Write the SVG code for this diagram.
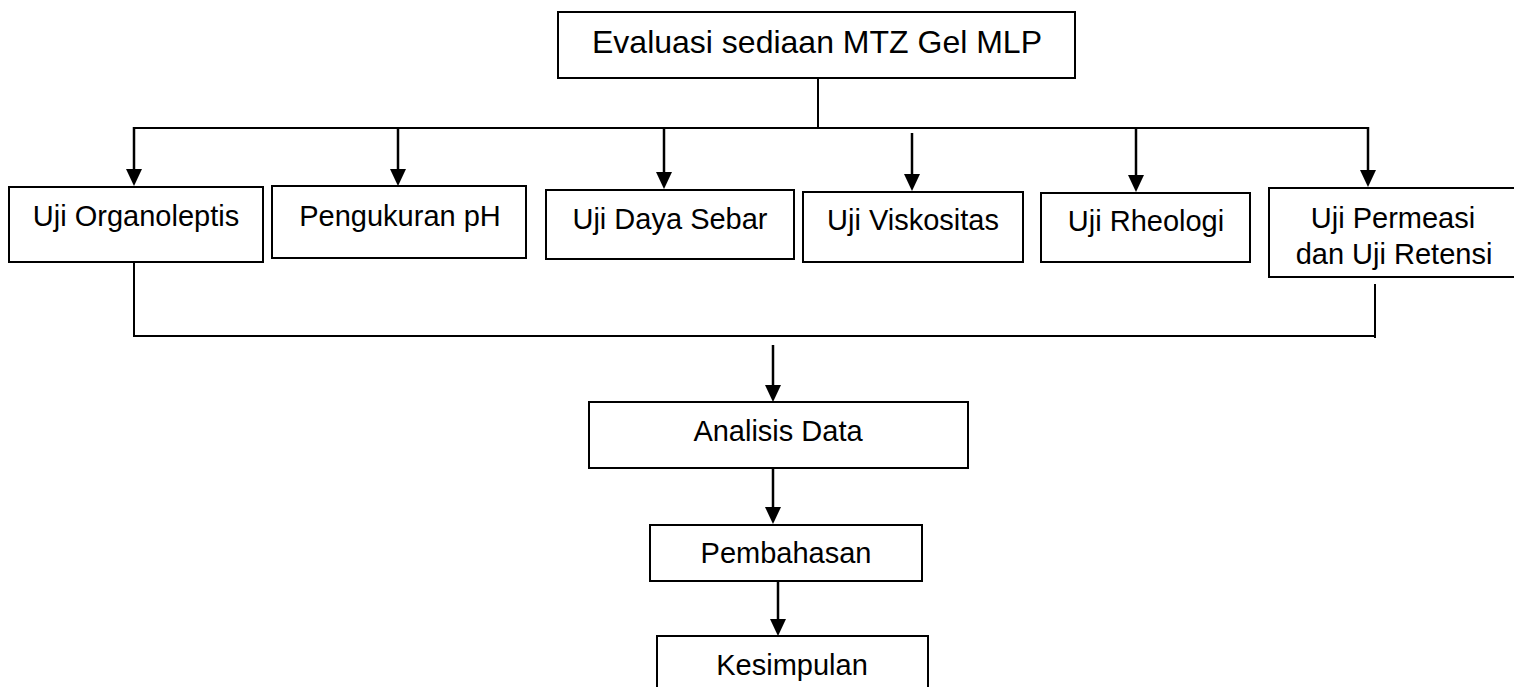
<svg xmlns="http://www.w3.org/2000/svg" width="1514" height="687" viewBox="0 0 1514 687">
<style>
.box{fill:#fff;stroke:#000;stroke-width:2}
.t{font-family:"Liberation Sans",Arial,sans-serif;font-size:29px;fill:#000;text-anchor:middle}
.ln{stroke:#000;stroke-width:2;fill:none}
.ar{stroke:#000;stroke-width:2.5;fill:none;marker-end:url(#ah)}
</style>
<defs>
<marker id="ah" viewBox="0 0 17 16" refX="0" refY="8" markerWidth="17" markerHeight="16" markerUnits="userSpaceOnUse" orient="auto">
<path d="M0,0 L17,8 L0,16 z" fill="#000"/>
</marker>
</defs>
<rect width="1514" height="687" fill="#fff"/>
<g id="connectors">
<line class="ln" x1="818" y1="78" x2="818" y2="128"/>
<line class="ln" x1="133" y1="128" x2="1369" y2="128"/>
<line class="ar" x1="134" y1="127" x2="134" y2="169"/>
<line class="ar" x1="398" y1="127" x2="398" y2="169"/>
<line class="ar" x1="664" y1="127" x2="664" y2="172"/>
<line class="ar" x1="912" y1="133" x2="912" y2="174"/>
<line class="ar" x1="1136" y1="127" x2="1136" y2="175"/>
<line class="ar" x1="1368" y1="127" x2="1368" y2="170"/>
<line class="ln" x1="134" y1="258" x2="134" y2="337"/>
<line class="ln" x1="1375" y1="284" x2="1375" y2="338"/>
<line class="ln" x1="133" y1="336" x2="1376" y2="336"/>
<line class="ar" x1="773" y1="345" x2="773" y2="385"/>
<line class="ar" x1="773" y1="468" x2="773" y2="507"/>
<line class="ar" x1="778" y1="581" x2="778" y2="619"/>
</g>
<g id="n-evaluasi">
<rect class="box" x="558" y="12" width="517" height="66"/>
<text class="t" x="817" y="53" style="font-size:32px">Evaluasi sediaan MTZ Gel MLP</text>
</g>
<g id="n-organoleptis">
<rect class="box" x="9" y="187" width="254" height="75"/>
<text class="t" x="136" y="226">Uji Organoleptis</text>
</g>
<g id="n-ph">
<rect class="box" x="272" y="186" width="254" height="72"/>
<text class="t" x="400" y="226">Pengukuran pH</text>
</g>
<g id="n-dayasebar">
<rect class="box" x="546" y="190" width="248" height="69"/>
<text class="t" x="670" y="229">Uji Daya Sebar</text>
</g>
<g id="n-viskositas">
<rect class="box" x="803" y="192" width="220" height="70"/>
<text class="t" x="913" y="230">Uji Viskositas</text>
</g>
<g id="n-rheologi">
<rect class="box" x="1041" y="193" width="209" height="69"/>
<text class="t" x="1146" y="231">Uji Rheologi</text>
</g>
<g id="n-permeasi">
<rect class="box" x="1269" y="188" width="260" height="89"/>
<text class="t" x="1393" y="228">Uji Permeasi</text>
<text class="t" x="1394" y="264">dan Uji Retensi</text>
</g>
<g id="n-analisis">
<rect class="box" x="589" y="402" width="379" height="66"/>
<text class="t" x="778" y="441">Analisis Data</text>
</g>
<g id="n-pembahasan">
<rect class="box" x="650" y="525" width="272" height="56"/>
<text class="t" x="786" y="563">Pembahasan</text>
</g>
<g id="n-kesimpulan">
<rect class="box" x="657" y="636" width="271" height="70"/>
<text class="t" x="792" y="675">Kesimpulan</text>
</g>
</svg>
